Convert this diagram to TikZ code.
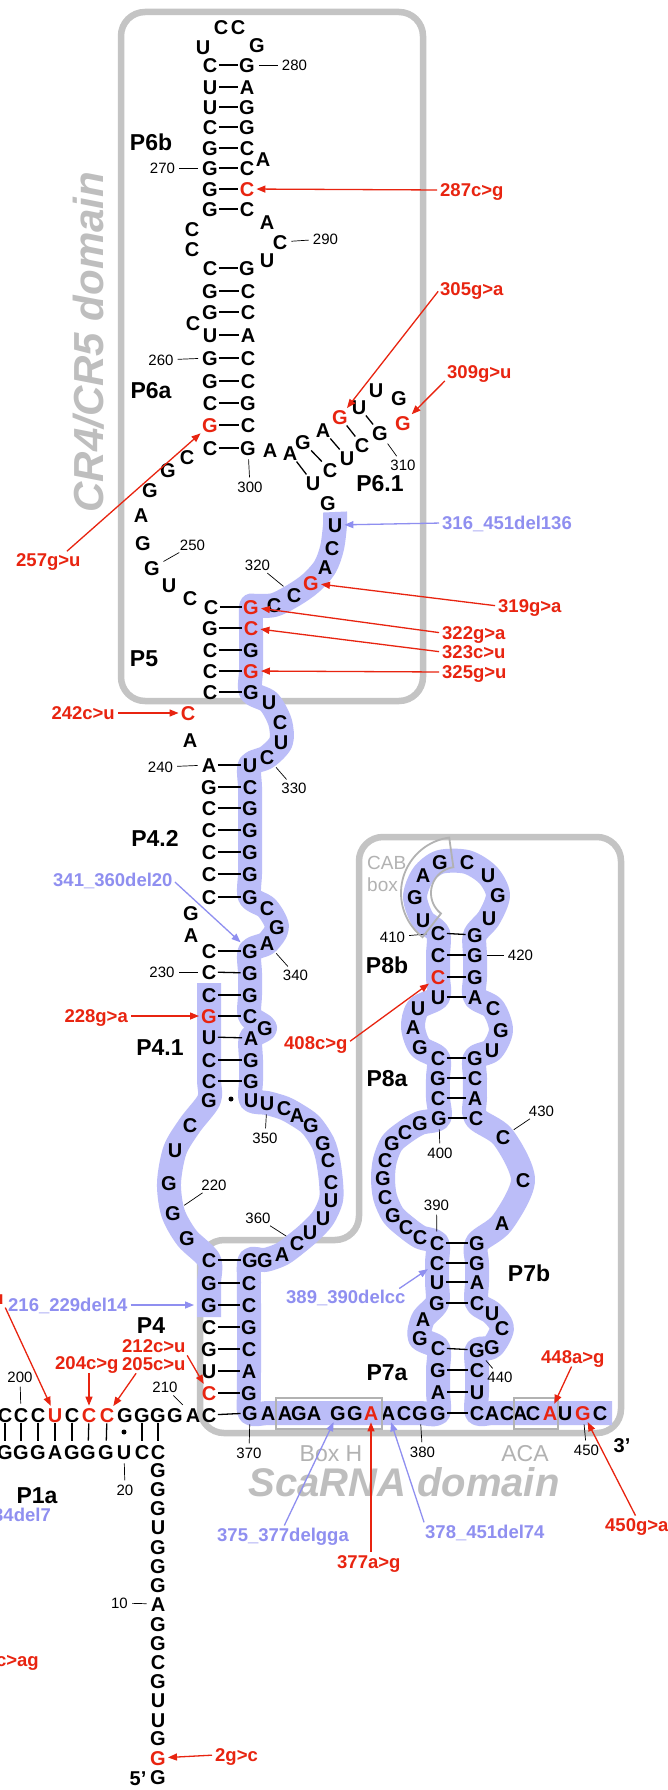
\documentclass[tikz,border=0pt]{standalone}
\usepackage{fontspec}
\usepackage{graphicx}
\setmainfont{Liberation Sans}
\usetikzlibrary{arrows.meta,backgrounds}
\definecolor{mutred}{RGB}{232,36,16}
\definecolor{delblue}{RGB}{143,143,240}
\definecolor{bandblue}{RGB}{187,189,248}
\definecolor{boxgray}{RGB}{196,196,196}
\definecolor{domgray}{RGB}{190,190,190}
\definecolor{lblgray}{RGB}{178,178,178}
\begin{document}
\begin{tikzpicture}[x=1pt,y=-1pt,
  nt/.style={inner sep=0pt, text height=14.3pt, text depth=0pt, font=\fontsize{20}{20}\selectfont\bfseries},
  ntr/.style={nt, text=mutred},
  pairline/.style={line width=1.3pt, shorten <=1.5pt, shorten >=1.5pt},
  vpairline/.style={line width=1.3pt, shorten <=1pt, shorten >=4pt},
  numlbl/.style={inner sep=0pt, text height=10.7pt, text depth=0pt, font=\fontsize{15}{15}\selectfont},
  tickline/.style={line width=0.7pt, shorten <=4pt, shorten >=4pt},
  mutlbl/.style={inner sep=0pt, text height=13.2pt, text depth=0pt, font=\fontsize{18.5}{18.5}\selectfont\bfseries, text=mutred},
  dellbl/.style={mutlbl, text=delblue},
  mutarrow/.style={draw=mutred, line width=1.3pt, -{Triangle[length=9pt,width=7pt]}, shorten <=3pt, shorten >=2pt},
  delarrow/.style={mutarrow, draw=delblue},
  stemlbl/.style={inner sep=0pt, text height=16.5pt, text depth=0pt, font=\fontsize{23}{23}\selectfont\bfseries},
  domainbox/.style={draw=boxgray, line width=6.5pt, rounded corners=24pt},
  domlbl/.style={inner sep=0pt, text=domgray, font=\fontsize{42}{42}\selectfont\bfseries\itshape},
  band/.style={draw=bandblue, line width=24pt, line join=round},
  graylbl/.style={inner sep=0pt, text height=16.5pt, text depth=0pt, text=lblgray, font=\fontsize{23}{23}\selectfont},
  cablbl/.style={inner sep=0pt, text height=13.6pt, text depth=0pt, text=lblgray, font=\fontsize{19}{19}\selectfont},
  graybox/.style={draw=lblgray, line width=1.5pt},
  pairdot/.style={circle, fill, inner sep=0pt, minimum size=5pt},
]
\useasboundingbox (0,0) rectangle (667,1790);

% ---------- nucleotides ----------
\foreach \i/\l/\x/\y in {
1/G/158/1777, 3/G/158/1738, 4/U/158/1720, 5/U/158/1700, 6/G/158/1681, 7/C/158/1662, 8/G/158/1643, 9/G/158/1624, 10/A/158/1604, 11/G/158/1585, 12/G/158/1566, 13/G/158/1547, 14/U/158/1527, 15/G/158/1508, 16/G/158/1489, 17/G/158/1470, 18/C/158/1452,
19/C/142/1452, 20/U/124/1452, 21/G/106/1452, 22/G/88/1452, 23/G/72/1452, 24/A/55/1452, 25/G/38/1452, 26/G/21/1452, 27/G/5/1452,
199/C/5/1415, 200/C/21/1415, 201/C/38/1415, 203/C/72/1415, 206/G/125/1415, 207/G/142/1415, 208/G/158/1415, 209/G/175/1415, 210/A/193/1415, 211/C/209/1415,
213/U/209/1371, 214/G/209/1349, 215/C/209/1327, 216/G/209/1305, 217/G/209/1283, 218/C/209/1260,
219/G/187/1238, 220/G/173/1213, 221/G/169/1183, 222/U/175/1150, 223/C/190/1125,
224/G/209/1100, 225/C/209/1081, 226/C/209/1060, 227/U/209/1037, 229/C/209/995, 230/C/209/972, 231/C/209/951,
232/A/191/935, 233/G/191/913,
234/C/209/897, 235/C/209/874, 236/C/209/852, 237/C/209/830, 238/C/209/808, 239/G/209/787, 240/A/209/765,
241/A/190/740,
243/C/210/692, 244/C/210/671, 245/C/210/650, 246/G/210/628, 247/C/211/607,
248/C/190/598, 249/U/169/585, 250/G/152/568, 251/G/143/543, 252/A/141/515, 253/G/150/490, 254/G/168/470, 255/C/187/457,
256/C/210/448, 258/C/210/403, 259/G/210/381, 260/G/210/358, 261/U/210/335, 262/C/193/323, 263/G/210/312, 264/G/210/291, 265/C/210/268,
266/C/192/249, 267/C/192/229,
268/G/210/209, 269/G/210/189, 270/G/210/168, 271/G/210/148, 272/C/210/127, 273/U/210/107, 274/U/210/87, 275/C/210/65,
276/U/203/47, 277/C/221/27, 278/C/238/27, 279/G/257/45,
280/G/247/65, 281/A/247/87, 282/G/247/107, 283/G/247/127, 284/C/247/148, 285/A/263/159, 286/C/247/168, 288/C/247/209,
289/A/267/222, 290/C/280/242, 291/U/267/260,
292/G/247/268, 293/C/248/291, 294/C/248/312, 295/A/248/335, 296/C/248/358, 297/C/248/381, 298/G/248/403, 299/C/248/425, 300/G/248/448,
301/A/270/450, 302/A/290/453, 303/G/303/442, 304/A/323/430, 306/U/359/407, 307/U/376/390, 308/G/399/398, 310/G/380/433, 311/C/362/445, 312/U/347/458, 313/C/330/470, 314/U/313/483, 315/G/328/503,
316/U/335/525, 317/C/332/548, 318/A/325/567, 320/C/294/595, 321/C/274/605,
324/G/251/650, 326/G/251/692, 327/U/269/702, 328/C/280/722, 329/U/281/742, 330/C/267/757,
331/U/250/765, 332/C/250/787, 333/G/250/808, 334/G/250/830, 335/G/250/852, 336/G/250/874, 337/G/250/897, 338/C/267/908, 339/G/277/927, 340/A/267/943, 341/G/250/951, 342/G/250/973, 343/G/250/995, 344/C/250/1016, 345/G/265/1028, 346/A/251/1038, 347/G/251/1060, 348/G/251/1081, 349/U/251/1100,
350/U/267/1103, 351/C/284/1108, 352/A/297/1115, 353/G/311/1125, 354/G/323/1143, 355/C/328/1160, 356/C/331/1182, 357/U/331/1200, 358/U/323/1218, 359/U/310/1232, 360/C/297/1243, 361/A/282/1254, 362/G/265/1260,
363/G/250/1260, 364/C/249/1283, 365/C/249/1305, 366/G/249/1327, 367/C/249/1349, 368/A/249/1371, 369/G/249/1393, 370/G/250/1413,
371/A/268/1413, 372/A/285/1413, 373/G/299/1413, 374/A/314/1413, 375/G/338/1413, 376/G/355/1413, 378/A/388/1413, 379/C/404/1413, 380/G/420/1413, 381/G/438/1413,
382/A/438/1392, 383/G/438/1370, 384/C/438/1348, 385/G/420/1338, 386/A/423/1319, 387/G/437/1303, 388/U/437/1282, 389/C/437/1263, 390/C/437/1243,
391/C/420/1237, 392/C/406/1227, 393/G/393/1215, 394/C/385/1197, 395/G/383/1178, 396/C/385/1160, 397/G/392/1143, 398/C/405/1132, 399/G/420/1123, 400/G/439/1118,
401/C/438/1098, 402/G/438/1078, 403/C/438/1058, 404/G/420/1047, 405/A/413/1027, 406/U/418/1008, 407/U/438/997, 409/C/438/955, 410/C/438/933,
411/U/423/920, 412/G/415/897, 413/A/423/875, 414/G/440/862, 415/C/467/862, 416/U/488/875, 417/G/498/895, 418/U/489/918,
419/G/475/935, 420/G/475/955, 421/G/475/977, 422/A/475/997, 423/C/493/1008, 424/G/501/1030, 425/U/492/1050,
426/G/475/1058, 427/C/475/1078, 428/A/475/1098, 429/C/476/1118, 430/C/503/1137, 431/C/523/1180, 432/A/502/1223,
433/G/477/1243, 434/G/477/1263, 435/A/477/1282, 436/C/477/1303, 437/U/492/1313, 438/C/502/1328, 439/G/492/1347, 440/G/477/1350,
441/C/477/1370, 442/U/477/1392, 443/C/477/1413, 444/A/492/1413, 445/C/507/1413, 446/A/520/1413, 447/C/533/1413, 449/U/565/1413, 451/C/600/1413}
  \node[nt] (n\i) at (\x,\y) {\l};
\foreach \i/\l/\x/\y in {2/G/158/1758, 202/U/55/1415, 204/C/89/1415, 205/C/107/1415, 212/C/209/1393, 228/G/209/1016, 242/C/188/713, 257/G/210/425, 287/C/247/189, 305/G/340/417, 309/G/403/423, 319/G/311/583, 322/G/251/607, 323/C/251/628, 325/G/251/671, 377/A/371/1413, 408/C/438/977, 448/A/550/1413, 450/G/583/1413}
  \node[ntr] (n\i) at (\x,\y) {\l};

% ---------- base pairs ----------
\foreach \a/\b in {275/280, 274/281, 273/282, 272/283, 271/284, 270/286, 269/287, 268/288, 265/292, 264/293, 263/294, 261/295, 260/296, 259/297, 258/298, 257/299, 256/300, 302/314, 303/313, 304/312, 305/311, 306/310, 247/322, 246/323, 245/324, 244/325, 243/326, 240/331, 239/332, 238/333, 237/334, 236/335, 235/336, 234/337, 231/341, 230/342, 229/343, 228/344, 227/346, 226/347, 225/348, 218/363, 217/364, 216/365, 215/366, 214/367, 213/368, 212/369, 211/370, 381/443, 382/442, 383/441, 384/440, 387/436, 388/435, 389/434, 390/433, 400/429, 401/428, 402/427, 403/426, 407/422, 408/421, 409/420, 410/419}
  \draw[pairline] (n\a) -- (n\b);
\foreach \a/\b in {199/27, 200/26, 201/25, 202/24, 203/23, 204/22, 205/21, 207/19, 208/18}
  \draw[vpairline] (n\a) -- (n\b);
\node[pairdot] (dot1) at (231,1099) {};
\node[pairdot] (dot2) at (124,1432) {};

% ---------- numbering ----------
\foreach \i/\x/\y in {280/294.5/65, 270/162.5/168, 290/325.5/239, 260/161/360, 300/250/487, 310/403/465, 250/192.5/545, 320/257.5/565, 240/160.5/767, 330/294/788, 230/162/972, 340/295.5/975, 350/265/1138, 220/214/1185, 360/258/1218, 210/165/1387, 200/20/1377, 370/249/1453, 20/125/1490, 380/422.5/1452, 450/586.5/1450, 440/500/1377, 430/541.5/1111, 400/440/1153, 390/436.5/1205, 410/392.5/937, 420/520.5/955, 10/119.5/1603}
{
  \node[numlbl] (l\i) at (\x,\y) {\i};
  \draw[tickline] (n\i) -- (l\i);
}

% ---------- stem labels ----------
\foreach \t/\x/\y in {P6b/151/142, P6a/151/390, P6.1/380/483, P5/144/658, P4.2/155/838, P4.1/160/1047, P4/151/1325, P1a/37/1495, P8b/387/965, P8a/387/1078, P7b/529/1273, P7a/387/1372}
  \node[stemlbl] (s\t) at (\x,\y) {\t};
\node[nt] (end3) at (622,1445) {3’};
\node[nt] (end5) at (138,1778) {5’};

% ---------- motif labels ----------
\node[graylbl] (boxH) at (331,1453) {Box H};
\node[graylbl] (boxACA) at (525,1453) {ACA};
\draw[graybox] (276,1398) rectangle (382,1429);
\draw[graybox] (514,1398) rectangle (558,1429);
\node[cablbl, anchor=west] (cab1) at (367,863) {CAB};
\node[cablbl, anchor=west] (cab2) at (367,885) {box};
\draw[graybox, line width=1.8pt] plot[domain=128:262, samples=40] ({457+56*cos(\x)},{893+56*sin(\x)}) -- plot[domain=262:128, samples=40] ({457+26*cos(\x)},{893+26*sin(\x)}) -- cycle;

% ---------- domain labels ----------
\node[domlbl, rotate=90, text height=30pt, text depth=0pt] (domCR) at (88,342) {CR4/CR5 domain};
\node[domlbl, text height=28.6pt, text depth=0pt, font=\fontsize{40}{40}\selectfont\bfseries\itshape] (domSca) at (404,1482) {ScaRNA domain};

% ---------- mutation labels ----------
\node[mutlbl, anchor=west] (m287) at (440,190) {287c>g};
\draw[mutarrow] (m287.west) -- (n287);
\node[mutlbl, anchor=west] (m305) at (440,289) {305g>a};
\draw[mutarrow] (m305.west) -- (n305);
\node[mutlbl, anchor=west] (m309) at (447,372) {309g>u};
\draw[mutarrow] (m309.south west) -- (n309);
\node[dellbl, anchor=west] (m316) at (442,523) {316\_451del136};
\draw[delarrow] (m316.west) -- (n316);
\node[mutlbl, anchor=west] (m319) at (498,606) {319g>a};
\draw[mutarrow] (m319.west) -- (n319);
\node[mutlbl, anchor=west] (m322) at (442,633) {322g>a};
\draw[mutarrow] (m322.west) -- (n322);
\node[mutlbl, anchor=west] (m323) at (442,652) {323c>u};
\draw[mutarrow] (m323.west) -- (n323);
\node[mutlbl, anchor=west] (m325) at (442,672) {325g>u};
\draw[mutarrow] (m325.west) -- (n325);
\node[mutlbl, anchor=east] (m242) at (115,713) {242c>u};
\draw[mutarrow] (m242.east) -- (n242);
\node[mutlbl, anchor=west] (m257) at (16,560) {257g>u};
\draw[mutarrow] ([xshift=-16pt]m257.north east) -- (n257);
\node[mutlbl, anchor=east] (m228) at (128,1016) {228g>a};
\draw[mutarrow] (m228.east) -- (n228);
\node[mutlbl, anchor=west] (m408) at (284,1043) {408c>g};
\draw[mutarrow] (m408.east) -- (n408);
\node[mutlbl, anchor=west] (m212) at (122,1346) {212c>u};
\draw[mutarrow] (m212.south east) -- (n212);
\node[mutlbl, anchor=west] (m204) at (55,1363) {204c>g};
\draw[mutarrow] (m204.south -| n204) -- (n204);
\node[mutlbl, anchor=west] (m205) at (122,1364) {205c>u};
\draw[mutarrow] ([xshift=-16pt]m205.south) -- (n205);
\node[mutlbl, anchor=east] (mu) at (4,1298) {u};
\draw[mutarrow] (mu.south east) -- (n202);
\node[mutlbl, anchor=west] (m448) at (541,1357) {448a>g};
\draw[mutarrow] (m448.south) -- (n448);
\node[mutlbl, anchor=west] (m450) at (605,1525) {450g>a};
\draw[mutarrow] (m450.north) -- (n450);
\node[mutlbl, anchor=west] (m377) at (337,1562) {377a>g};
\draw[mutarrow] (m377.north -| n377) -- (n377);
\node[mutlbl, anchor=west] (m2) at (215,1755) {2g>c};
\draw[mutarrow] (m2.west) -- (n2);
\node[mutlbl, anchor=east] (mcag) at (39,1660) {c>ag};
\node[dellbl, anchor=west] (m341) at (53,880) {341\_360del20};
\draw[delarrow] (m341.east) -- (n341);
\node[dellbl, anchor=west] (m216) at (8,1305) {216\_229del14};
\draw[delarrow, shorten >=7pt] (m216.east) -- (n216);
\node[dellbl, anchor=west] (m389) at (286,1297) {389\_390delcc};
\draw[delarrow] ([xshift=-9pt]m389.north east) -- (n389);
\node[dellbl, anchor=west] (m375) at (217,1535) {375\_377delgga};
\draw[delarrow] (m375.north) -- (n375);
\node[dellbl, anchor=west] (m378) at (425,1532) {378\_451del74};
\draw[delarrow] (m378.north west) -- (n378);
\node[dellbl, anchor=east] (m34) at (51,1515) {34del7};

% ---------- background: boxes and highlight ----------
\begin{scope}[on background layer]
\fill[white] (0,0) rectangle (667,1790);
\draw[domainbox] (121,12) rectangle (423,701);
\draw[domainbox] (359,1240) -- (359,837) -- (621,837) -- (621,1433) -- (200,1433) -- (200,1240) -- cycle;
\draw[band] plot[smooth, tension=0.5] coordinates {(335,512) (n316.center) (n317.center) (n318.center) (n319.center) (n320.center) (n321.center) (254,606) (n322.center) (n323.center) (n324.center) (n325.center) (n326.center) (n327.center) (n328.center) (n329.center) (n330.center) (n331.center) (n332.center) (n333.center) (n334.center) (n335.center) (n336.center) (n337.center) (n338.center) (n339.center) (n340.center) (n341.center) (n342.center) (n343.center) (n344.center) (n345.center) (n346.center) (n347.center) (n348.center) (n349.center) (n350.center) (n351.center) (n352.center) (n353.center) (n354.center) (n355.center) (n356.center) (n357.center) (n358.center) (n359.center) (n360.center) (n361.center) (n362.center) (n363.center) (n364.center) (n365.center) (n366.center) (n367.center) (n368.center) (n369.center) (n370.center) (n371.center) (n372.center) (n373.center) (n374.center) (n375.center) (n376.center) (n377.center) (n378.center) (n379.center) (n380.center) (n381.center) (n382.center) (n383.center) (n384.center) (n385.center) (n386.center) (n387.center) (n388.center) (n389.center) (n390.center) (n391.center) (n392.center) (n393.center) (n394.center) (n395.center) (n396.center) (n397.center) (n398.center) (n399.center) (n400.center) (n401.center) (n402.center) (n403.center) (n404.center) (n405.center) (n406.center) (n407.center) (n408.center) (n409.center) (n410.center) (n411.center) (n412.center) (n413.center) (n414.center) (n415.center) (n416.center) (n417.center) (n418.center) (n419.center) (n420.center) (n421.center) (n422.center) (n423.center) (n424.center) (n425.center) (n426.center) (n427.center) (n428.center) (n429.center) (n430.center) (n431.center) (n432.center) (n433.center) (n434.center) (n435.center) (n436.center) (n437.center) (n438.center) (n439.center) (n440.center) (n441.center) (n442.center) (n443.center) (n444.center) (n445.center) (n446.center) (n447.center) (n448.center) (n449.center) (n450.center) (n451.center) (612,1413)};
\draw[band] plot[smooth, tension=0.5] coordinates {(209,983) (n229.center) (n228.center) (n227.center) (n226.center) (n225.center) (n224.center) (n223.center) (n222.center) (n221.center) (n220.center) (n219.center) (n218.center) (n217.center) (n216.center) (209,1317)};
\end{scope}
\end{tikzpicture}
\end{document}
